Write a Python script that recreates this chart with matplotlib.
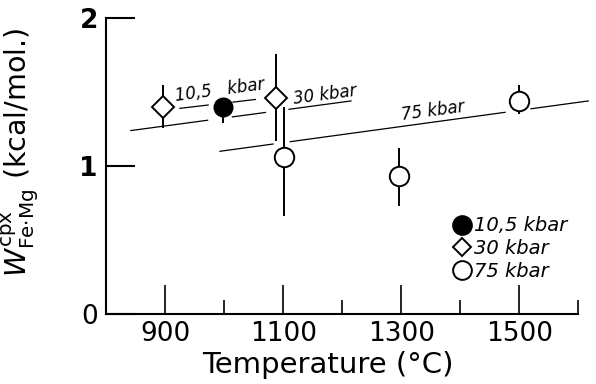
import numpy as np
import matplotlib
matplotlib.use("Agg")
import matplotlib.pyplot as plt
from matplotlib.lines import Line2D

plt.rcParams['font.family'] = ['DejaVu Sans']
plt.rcParams['mathtext.fontset'] = 'dejavusans'

# measured W(Fe-Mg) for clinopyroxene, grouped by pressure
t_10 = [998]
w_10 = [1.40]
lo_10 = [1.29]
hi_10 = [1.46]

t_30 = [897, 1088]
w_30 = [1.40, 1.46]
lo_30 = [1.26, 1.17]
hi_30 = [1.55, 1.76]

t_75 = [1102, 1297, 1500]
w_75 = [1.06, 0.93, 1.44]
lo_75 = [0.66, 0.73, 1.35]
hi_75 = [1.40, 1.12, 1.55]

# fitted trends: end points and the stretches actually drawn (broken around symbols)
fit_10_t = [925, 1053]
fit_10_w = [1.39, 1.45]
fit_10_seg = [(925, 973), (1015, 1053)]

fit_30_t = [842, 1215]
fit_30_w = [1.24, 1.44]
fit_30_seg = [(842, 972), (1014, 1070), (1110, 1215)]

fit_75_t = [993, 1617]
fit_75_w = [1.10, 1.44]
fit_75_seg = [(993, 1083), (1112, 1476), (1520, 1617)]

major_t = [900, 1100, 1300, 1500]
minor_t = [1000, 1200, 1400, 1600]
w_ticks = [0, 1, 2]

fig = plt.figure(figsize=(5.96, 3.84), dpi=100)
ax = fig.add_axes([0.178, 0.182, 0.812, 0.771])


def draw_fit(t, w, segs):
    slope = (w[1] - w[0]) / (t[1] - t[0])
    for a, b in segs:
        xs = np.array([a, b])
        ys = w[0] + slope * (xs - t[0])
        ax.plot(xs, ys, color='black', lw=0.9, zorder=1)


draw_fit(fit_10_t, fit_10_w, fit_10_seg)
draw_fit(fit_30_t, fit_30_w, fit_30_seg)
draw_fit(fit_75_t, fit_75_w, fit_75_seg)


def draw_points(t, w, lo, hi, marker, face, ms):
    t = np.array(t); w = np.array(w)
    yerr = [w - np.array(lo), np.array(hi) - w]
    ax.errorbar(t, w, yerr=yerr, fmt='none', ecolor='black', elinewidth=1.4,
                capsize=0, zorder=2)
    ax.plot(t, w, linestyle='none', marker=marker, mfc=face, mec='black',
            mew=1.4, ms=ms, zorder=3)


draw_points(t_10, w_10, lo_10, hi_10, 'o', 'black', 13)
draw_points(t_30, w_30, lo_30, hi_30, 'D', 'white', 11)
draw_points(t_75, w_75, lo_75, hi_75, 'o', 'white', 14)

lab_kw = dict(fontsize=12, style='italic', rotation=7.5, rotation_mode='anchor',
              ha='center', va='center', zorder=4)
ax.text(993, 1.51, '10,5   kbar', **lab_kw)
ax.text(1170, 1.48, '30 kbar', **lab_kw)
ax.text(1354, 1.37, '75 kbar', **lab_kw)

handles = [
    Line2D([], [], ls='none', marker='o', mfc='black', mec='black', mew=1.4, ms=13.5),
    Line2D([], [], ls='none', marker='D', mfc='white', mec='black', mew=1.4, ms=9.5),
    Line2D([], [], ls='none', marker='o', mfc='white', mec='black', mew=1.4, ms=13.5),
]
ax.legend(handles, ['10,5 kbar', '30 kbar', '75 kbar'], loc='upper left',
          bbox_to_anchor=(0.715, 0.33), frameon=False, borderpad=0,
          handlelength=1.0, handletextpad=0.15, labelspacing=0.2,
          borderaxespad=0, prop=dict(size=14, style='italic'))

ax.set_xlim(800, 1620)
ax.set_ylim(0, 2)
for s in ['top', 'right']:
    ax.spines[s].set_visible(False)
ax.spines['bottom'].set_bounds(800, 1600)
for s in ['left', 'bottom']:
    ax.spines[s].set_linewidth(1.5)

ax.set_xticks(major_t)
ax.set_xticks(minor_t, minor=True)
ax.set_yticks(w_ticks)
ax.tick_params(axis='x', which='major', direction='in', length=21, width=1.2,
               labelsize=19, pad=5)
ax.tick_params(axis='x', which='minor', direction='in', length=10, width=1.2)
ax.tick_params(axis='y', which='major', direction='in', length=21, width=1.5,
               labelsize=19, pad=6)
for lbl in ax.get_yticklabels():
    if lbl.get_text() != '0':
        lbl.set_fontweight('bold')

ax.set_xlabel('Temperature (°C)', fontsize=21)
ax.xaxis.set_label_coords(0.459, -0.125)
ax.set_ylabel(r'$W^{\mathrm{cpx}}_{\mathrm{Fe{\cdot}Mg}}$ (kcal/mol.)', fontsize=20.5)
ax.yaxis.set_label_coords(-0.135, 0.545)

fig.savefig('out.png', dpi=100)
